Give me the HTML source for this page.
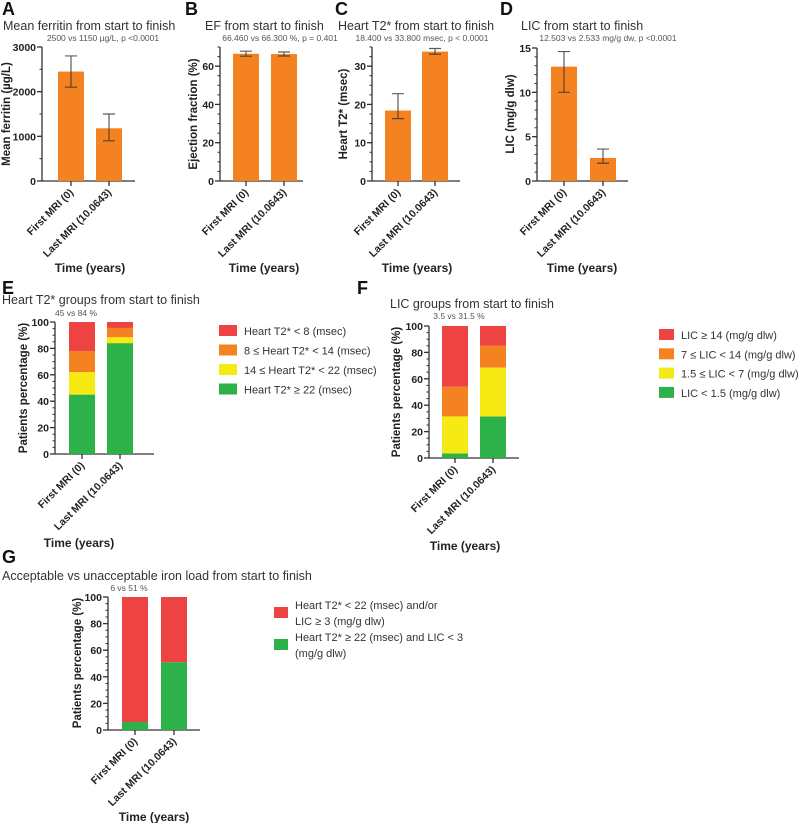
<!DOCTYPE html>
<html><head><meta charset="utf-8">
<style>
html,body{margin:0;padding:0;background:#fff;}
svg{display:block;font-family:"Liberation Sans",Arial,sans-serif;}
</style></head>
<body>
<svg id="fig" width="800" height="823" viewBox="0 0 800 823"></svg>
<script>
// ---- data ----
const categories = ["First MRI (0)", "Last MRI (10.0643)"];
const ferritinValues = [2450, 1180];
const ferritinErrLow = [2100, 900];
const ferritinErrHigh = [2800, 1500];
const efValues = [66.46, 66.3];
const efErrLow = [65.2, 65.3];
const efErrHigh = [67.8, 67.4];
const t2Values = [18.4, 33.8];
const t2ErrLow = [16.3, 33.1];
const t2ErrHigh = [22.8, 34.6];
const licValues = [12.9, 2.6];
const licErrLow = [10.0, 2.0];
const licErrHigh = [14.6, 3.6];
// stacked percentages (bottom to top): green, yellow, orange, red
const t2GroupGreen = [45, 84];
const t2GroupYellow = [17, 4.5];
const t2GroupOrange = [16, 7];
const t2GroupRed = [22, 4.5];
const licGroupGreen = [3.5, 31.5];
const licGroupYellow = [28, 37];
const licGroupOrange = [22.5, 16.5];
const licGroupRed = [46, 15];
const accGreen = [6, 51];
const accRed = [94, 49];
const tickFerritin = [0, 1000, 2000, 3000];
const tickEF = [0, 20, 40, 60];
const tickT2 = [0, 10, 20, 30];
const tickLIC = [0, 5, 10, 15];
const tickPct = [0, 20, 40, 60, 80, 100];
const legendT2 = ["Heart T2* < 8 (msec)", "8 \u2264 Heart T2* < 14 (msec)", "14 \u2264 Heart T2* < 22 (msec)", "Heart T2* \u2265 22 (msec)"];
const legendLIC = ["LIC \u2265 14 (mg/g dlw)", "7 \u2264 LIC < 14 (mg/g dlw)", "1.5 \u2264 LIC < 7 (mg/g dlw)", "LIC < 1.5 (mg/g dlw)"];

const C = {red:"#EE4343", orange:"#F58220", yellow:"#F5EA14", green:"#2DB24A", bar:"#F58220"};
const NS = "http://www.w3.org/2000/svg";
const svg = document.getElementById("fig");

function el(tag, attrs, parent, text){
  const e = document.createElementNS(NS, tag);
  for (const k in attrs) e.setAttribute(k, attrs[k]);
  if (text !== undefined) e.textContent = text;
  (parent || svg).appendChild(e);
  return e;
}

function axes(g, o){
  const sy = v => o.yBottom - (v / o.max) * (o.yBottom - o.yTop);
  const yl = el("line", {x1:o.x0, y1:o.yTop, x2:o.x0, y2:o.yBottom, stroke:"#333", "stroke-width":1.3}, g);
  
  
  const xl = el("line", {x1:o.x0, y1:o.yBottom, x2:o.xEnd, y2:o.yBottom, stroke:"#333", "stroke-width":1.3}, g);
  
  
  for (let v = 0; v <= o.max + 1e-9; v += o.minorStep){
    el("line", {x1:o.x0-2.5, y1:sy(v), x2:o.x0, y2:sy(v), stroke:"#333", "stroke-width":1}, g);
  }
  o.ticks.forEach(t => {
    el("line", {x1:o.x0-5, y1:sy(t), x2:o.x0, y2:sy(t), stroke:"#333", "stroke-width":1.3}, g);
    const tl = el("text", {x:o.x0-6, y:sy(t)+4, "text-anchor":"end", "font-size":10.5, "font-weight":"bold", fill:"#222"}, g, String(t));
    
    
  });
  o.tickCx.forEach((cx, i) => {
    el("line", {x1:cx, y1:o.yBottom, x2:cx, y2:o.yBottom+5, stroke:"#333", "stroke-width":1.3}, g);
    const lab = el("text", {transform:`translate(${cx+3},${o.yBottom+12}) rotate(-45)`, "text-anchor":"end", "font-size":10.5, "font-weight":"bold", fill:"#222"}, g, categories[i]);
    
    
  });
  return sy;
}

function texts(g, p){
  const L = el("text", {x:p.letterX, y:p.letterY, "font-size":18, "font-weight":"bold", fill:"#111"}, g, p.letter);
  
  
  const T = el("text", {x:p.titleX, y:p.titleY, "font-size":12.5, fill:"#333"}, g, p.title);
  
  
  const S = el("text", {x:p.subX, y:p.subY, "text-anchor":"middle", "font-size":8.5, fill:"#555"}, g, p.sub);
  
  
  const Y = el("text", {transform:`translate(${p.ytX},${p.ytY}) rotate(-90)`, "text-anchor":"middle", "font-size":11.5, "font-weight":"bold", fill:"#222"}, g, p.yTitle);
  
  
  const X = el("text", {x:p.xtX, y:p.xtY, "text-anchor":"middle", "font-size":12, "font-weight":"bold", fill:"#222"}, g, "Time (years)");
  
  
}

function barPanel(p, vals, lo, hi){
  const g = el("g", {});
  
  
  const cx = p.barX.map(x => x + 13);
  const sy = axes(g, {x0:p.x0, xEnd:p.xEnd, yTop:p.yTop, yBottom:181, max:p.max, ticks:p.ticks, minorStep:p.minor, tickCx:cx});
  vals.forEach((v, i) => {
    const b = el("rect", {x:p.barX[i], y:sy(v), width:26, height:181-sy(v), fill:C.bar}, g);
    
    
    const e = el("path", {d:`M${cx[i]},${sy(lo[i])}V${sy(hi[i])}M${cx[i]-6},${sy(lo[i])}H${cx[i]+6}M${cx[i]-6},${sy(hi[i])}H${cx[i]+6}`, stroke:"#333", "stroke-opacity":0.8, "stroke-width":1.2, fill:"none"}, g);
    
    
  });
  texts(g, p);
}

barPanel({name:"panel-a-ferritin", letter:"A", letterX:2, letterY:15, title:"Mean ferritin from start to finish", titleX:3, titleY:30, sub:"2500 vs 1150 \u00b5g/L, p <0.0001", subX:103, subY:41, x0:42, xEnd:135, yTop:47, max:3000, ticks:tickFerritin, minor:500, barX:[58,96], yTitle:"Mean ferritin (\u00b5g/L)", ytX:10, ytY:114, xtX:90, xtY:272}, ferritinValues, ferritinErrLow, ferritinErrHigh);
barPanel({name:"panel-b-ef", letter:"B", letterX:185, letterY:15, title:"EF from start to finish", titleX:205, titleY:30, sub:"66.460 vs 66.300 %, p = 0.401", subX:280, subY:41, x0:220, xEnd:303, yTop:47, max:70, ticks:tickEF, minor:5, barX:[233,271], yTitle:"Ejection  fraction (%)", ytX:197, ytY:114, xtX:264, xtY:272}, efValues, efErrLow, efErrHigh);
barPanel({name:"panel-c-heart-t2", letter:"C", letterX:335, letterY:15, title:"Heart T2* from start to finish", titleX:338, titleY:30, sub:"18.400 vs 33.800 msec, p < 0.0001", subX:422, subY:41, x0:372, xEnd:460, yTop:47, max:35, ticks:tickT2, minor:2.5, barX:[385,422], yTitle:"Heart T2* (msec)", ytX:347, ytY:114, xtX:417, xtY:272}, t2Values, t2ErrLow, t2ErrHigh);
barPanel({name:"panel-d-lic", letter:"D", letterX:500, letterY:15, title:"LIC from start to finish", titleX:521, titleY:30, sub:"12.503 vs 2.533 mg/g dw, p <0.0001", subX:608, subY:41, x0:537, xEnd:628, yTop:48, max:15, ticks:tickLIC, minor:1, barX:[551,590], yTitle:"LIC (mg/g dlw)", ytX:514, ytY:114, xtX:582, xtY:272}, licValues, licErrLow, licErrHigh);

function stackPanel(p, series, colors, legend, legendColors){
  const g = el("g", {});
  
  
  const cx = p.barX.map(x => x + 13);
  const sy = axes(g, {x0:p.x0, xEnd:p.xEnd, yTop:p.yTop, yBottom:p.yBottom, max:100, ticks:tickPct, minorStep:5, tickCx:cx});
  categories.forEach((c, i) => {
    let base = 0;
    series.forEach((s, k) => {
      const v = s[i];
      const r = el("rect", {x:p.barX[i], y:sy(base+v), width:26, height:sy(base)-sy(base+v), fill:colors[k]}, g);
      
      
      base += v;
    });
  });
  legend.forEach((lines, k) => {
    const y = p.legY + k * p.legStep;
    const sw = el("rect", {x:p.legX, y:y-6, width:p.swW, height:11, fill:legendColors[k]}, g);
    
    
    const arr = Array.isArray(lines) ? lines : [lines];
    arr.forEach((ln, j) => {
      const t = el("text", {x:p.legX+p.swW+7, y:y+4 + (j - (arr.length-1)/2)*16, "font-size":11, fill:"#333"}, g, ln);
      
      
    });
  });
  texts(g, p);
}

stackPanel({name:"panel-e-t2-groups", letter:"E", letterX:2, letterY:294, title:"Heart T2* groups from start to finish", titleX:2, titleY:304, sub:"45 vs 84 %", subX:76, subY:316, x0:55, xEnd:154, yTop:322, yBottom:454, barX:[69,107], yTitle:"Patients percentage (%)", ytX:27, ytY:388, xtX:79, xtY:547, legX:219, legY:331, legStep:19.5, swW:18},
  [t2GroupGreen, t2GroupYellow, t2GroupOrange, t2GroupRed], [C.green, C.yellow, C.orange, C.red], legendT2, [C.red, C.orange, C.yellow, C.green]);

stackPanel({name:"panel-f-lic-groups", letter:"F", letterX:357, letterY:294, title:"LIC groups from start to finish", titleX:390, titleY:308, sub:"3.5 vs 31.5 %", subX:459, subY:319, x0:429, xEnd:519, yTop:326, yBottom:458, barX:[442,480], yTitle:"Patients percentage (%)", ytX:400, ytY:392, xtX:465, xtY:550, legX:659, legY:335, legStep:19.3, swW:15},
  [licGroupGreen, licGroupYellow, licGroupOrange, licGroupRed], [C.green, C.yellow, C.orange, C.red], legendLIC, [C.red, C.orange, C.yellow, C.green]);

stackPanel({name:"panel-g-acceptable-iron", letter:"G", letterX:2, letterY:563, title:"Acceptable vs unacceptable iron load from start to finish", titleX:2, titleY:580, sub:"6 vs 51 %", subX:129, subY:591, x0:108, xEnd:200, yTop:597, yBottom:730, barX:[122,161], yTitle:"Patients percentage (%)", ytX:81, ytY:663, xtX:154, xtY:821, legX:274, legY:613, legStep:32, swW:14},
  [accGreen, accRed], [C.green, C.red], [["Heart T2* < 22 (msec) and/or", "LIC \u2265 3 (mg/g dlw)"], ["Heart T2* \u2265 22 (msec) and LIC < 3", "(mg/g dlw)"]], [C.red, C.green]);
</script>
</body></html>
